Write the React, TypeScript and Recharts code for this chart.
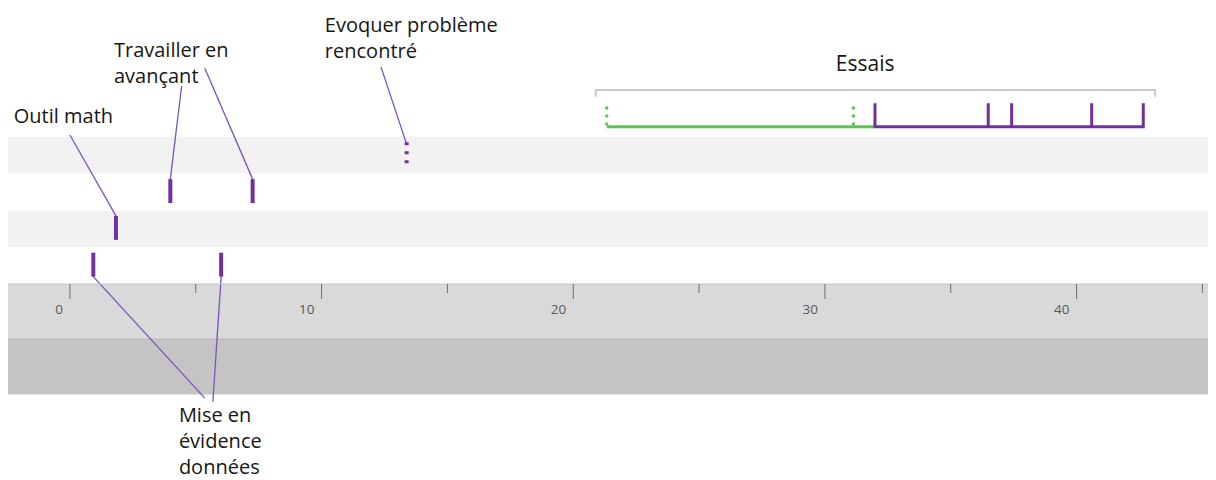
import React from 'react';
import {
  ComposedChart,
  Line,
  XAxis,
  YAxis,
  ReferenceArea,
  ReferenceLine,
  ReferenceDot,
} from 'recharts';

// ---------- data (time on the x axis) ----------
const xTicks = [0, 5, 10, 15, 20, 25, 30, 35, 40, 45];
const miseEnEvidenceDonnees = [0.93, 6.01]; // lane 0
const outilMath = [1.83]; // lane 1
const travaillerEnAvancant = [3.99, 7.26]; // lane 2
const evoquerProbleme = [13.38]; // lane 3 (dotted)
const essaisGreenDotted = [21.33, 31.13];
const essaisGreenSpan = [21.33, 31.99];
const essaisPurpleMarks = [31.99, 36.49, 37.42, 40.6, 42.65];
const essaisBracket = [20.89, 43.12];

// ---------- layout constants (in y-axis units) ----------
const LANE_BOTTOM = 0.2;
const LANE_TOP = 0.85;
const ESSAIS_BASE = 4.27;
const ESSAIS_TOP = 4.91;
const ESSAIS_DOT_TOP = 4.82;
const BRACKET_Y = 5.27;
const BRACKET_END = 5.09;

const PURPLE = '#7030a0';
const LEADER = '#7d52bd';
const GREEN = '#58c750';
const FONT = '"Open Sans", sans-serif';

const markSegment = (x: number, lane: number) => [
  { x, y: lane + LANE_TOP },
  { x, y: lane + LANE_BOTTOM },
];

const laneMarks = [
  ...miseEnEvidenceDonnees.map((x) => markSegment(x, 0)),
  ...outilMath.map((x) => markSegment(x, 1)),
  ...travaillerEnAvancant.map((x) => markSegment(x, 2)),
];
const dottedMarks = evoquerProbleme.map((x) => markSegment(x, 3));

const greenDotted = essaisGreenDotted.map((x) => [
  { x, y: ESSAIS_DOT_TOP },
  { x, y: ESSAIS_BASE },
]);
const greenSpan = essaisGreenSpan.map((x) => ({ x, y: ESSAIS_BASE }));
const purplePath = essaisPurpleMarks.flatMap((x) => [
  { x, y: ESSAIS_BASE },
  { x, y: ESSAIS_TOP },
  { x, y: ESSAIS_BASE },
]);
const bracketPath = [
  { x: essaisBracket[0], y: BRACKET_END },
  { x: essaisBracket[0], y: BRACKET_Y },
  { x: essaisBracket[1], y: BRACKET_Y },
  { x: essaisBracket[1], y: BRACKET_END },
];

type Ann = {
  lines: string[];
  x: number;
  y: number;
  anchor?: 'start' | 'middle';
  size?: number;
  leaders: { x1: number; y1: number; x2: number; y2: number }[];
};

const annotations: Ann[] = [
  {
    lines: ['Outil math'],
    x: -2.23,
    y: 4.38,
    leaders: [{ x1: 0, y1: 4.05, x2: outilMath[0], y2: 1 + LANE_TOP }],
  },
  {
    lines: ['Travailler en', 'avançant'],
    x: 1.75,
    y: 6.18,
    leaders: [
      { x1: 4.44, y1: 5.38, x2: travaillerEnAvancant[0], y2: 2 + LANE_TOP },
      { x1: 5.36, y1: 5.86, x2: travaillerEnAvancant[1], y2: 2 + LANE_TOP },
    ],
  },
  {
    lines: ['Evoquer problème', 'rencontré'],
    x: 10.13,
    y: 6.86,
    leaders: [{ x1: 12.36, y1: 5.9, x2: evoquerProbleme[0], y2: 3 + LANE_TOP - 0.05 }],
  },
  {
    lines: ['Mise en', 'évidence', 'données'],
    x: 4.33,
    y: -3.74,
    leaders: [
      { x1: miseEnEvidenceDonnees[0], y1: LANE_BOTTOM, x2: 5.36, y2: -3.1 },
      { x1: miseEnEvidenceDonnees[1], y1: LANE_BOTTOM, x2: 5.68, y2: -3.2 },
    ],
  },
  {
    lines: ['Essais'],
    x: 31.6,
    y: 5.79,
    anchor: 'middle',
    size: 21,
    leaders: [],
  },
];

const AxisTick = (props: any) => {
  const { x, y, payload } = props;
  const major = payload.value % 10 === 0;
  return (
    <g>
      <line x1={x} y1={y} x2={x} y2={y + (major ? 15 : 9)} stroke="#6f6f6f" strokeWidth={1} />
      {major && (
        <text x={x - 7} y={y + 30} textAnchor="end" fontSize={13.5} fill="#595959" fontFamily={FONT}>
          {payload.value}
        </text>
      )}
    </g>
  );
};

const makeLabel = (a: Ann) => (p: any) => (
  <text
    x={p.cx}
    y={p.cy}
    textAnchor={a.anchor || 'start'}
    fontSize={a.size || 20}
    fill="#161616"
    fontFamily={FONT}
  >
    {a.lines.map((l, i) => (
      <tspan key={i} x={p.cx} dy={i === 0 ? 0 : 26}>
        {l}
      </tspan>
    ))}
  </text>
);

export default function App() {
  return (
    <div style={{ width: 1208, height: 472, fontFamily: FONT }}>
      <ComposedChart width={1208} height={472} margin={{ top: 0, right: 0, bottom: 0, left: 0 }}>
        <YAxis type="number" domain={[0, 7.5]} hide />
        {/* lane backgrounds */}
        <ReferenceArea y1={1} y2={2} fill="#f2f2f2" fillOpacity={1} stroke="none" />
        <ReferenceArea y1={3} y2={4} fill="#f2f2f2" fillOpacity={1} stroke="none" />
        {/* axis bands */}
        <ReferenceArea y1={-1.5} y2={0} fill="#d9d9d9" fillOpacity={1} stroke="none" ifOverflow="visible" />
        <ReferenceArea y1={-3} y2={-1.5} fill="#c4c4c4" fillOpacity={1} stroke="none" ifOverflow="visible" />
        <ReferenceLine y={-1.5} stroke="#b2b2b2" strokeWidth={1} ifOverflow="visible" />
        <XAxis
          dataKey="x"
          type="number"
          domain={[-2.46, 45.54]}
          ticks={xTicks}
          interval={0}
          height={196}
          tickLine={false}
          tickSize={0}
          tickMargin={0}
          axisLine={{ stroke: '#c2c2c2' }}
          tick={<AxisTick />}
        />
        {/* leader lines */}
        {annotations.flatMap((a, ai) =>
          a.leaders.map((l, li) => (
            <ReferenceLine
              key={`ld-${ai}-${li}`}
              segment={[
                { x: l.x1, y: l.y1 },
                { x: l.x2, y: l.y2 },
              ]}
              stroke={LEADER}
              strokeWidth={1.3}
              ifOverflow="visible"
            />
          ))
        )}
        {/* bracket */}
        <Line
          data={bracketPath}
          dataKey="y"
          stroke="#c9c9c9"
          strokeWidth={2}
          dot={false}
          activeDot={false}
          isAnimationActive={false}
        />
        {/* lane marks */}
        {laneMarks.map((seg, i) => (
          <Line
            key={`m-${i}`}
            data={seg}
            dataKey="y"
            stroke={PURPLE}
            strokeWidth={4}
            dot={false}
            activeDot={false}
            isAnimationActive={false}
          />
        ))}
        {dottedMarks.map((seg, i) => (
          <Line
            key={`d-${i}`}
            data={seg}
            dataKey="y"
            stroke={PURPLE}
            strokeWidth={4}
            strokeDasharray="3 6"
            dot={false}
            activeDot={false}
            isAnimationActive={false}
          />
        ))}
        {/* Essais */}
        {greenDotted.map((seg, i) => (
          <Line
            key={`g-${i}`}
            data={seg}
            dataKey="y"
            stroke={GREEN}
            strokeWidth={3}
            strokeDasharray="3 5"
            dot={false}
            activeDot={false}
            isAnimationActive={false}
          />
        ))}
        <Line
          data={greenSpan}
          dataKey="y"
          stroke={GREEN}
          strokeWidth={3}
          dot={false}
          activeDot={false}
          isAnimationActive={false}
        />
        <Line
          data={purplePath}
          dataKey="y"
          stroke={PURPLE}
          strokeWidth={3}
          dot={false}
          activeDot={false}
          isAnimationActive={false}
        />
        {/* text labels */}
        {annotations.map((a, i) => (
          <ReferenceDot
            key={`t-${i}`}
            x={a.x}
            y={a.y}
            r={0}
            ifOverflow="visible"
            shape={makeLabel(a)}
          />
        ))}
      </ComposedChart>
    </div>
  );
}
